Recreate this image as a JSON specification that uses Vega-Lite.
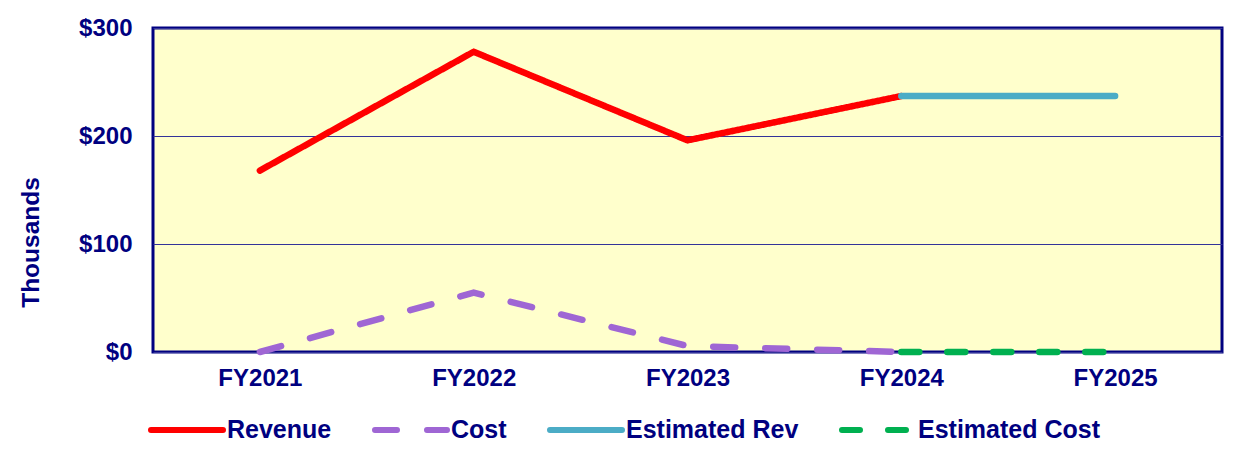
{
  "$schema": "https://vega.github.io/schema/vega-lite/v6.json",
  "width": 1069,
  "height": 324,
  "autosize": {"type": "none"},
  "padding": {"left": 153, "top": 28, "right": 11, "bottom": 114},
  "background": "#FFFFFF",
  "config": {
    "font": "Liberation Sans",
    "view": {"fill": "#FFFFCC", "stroke": "#000080", "strokeWidth": 3}
  },
  "data": {
    "values": [
      {"year": "FY2021", "series": "Revenue", "value": 168},
      {"year": "FY2022", "series": "Revenue", "value": 278},
      {"year": "FY2023", "series": "Revenue", "value": 196},
      {"year": "FY2024", "series": "Revenue", "value": 237},
      {"year": "FY2021", "series": "Cost", "value": 0},
      {"year": "FY2022", "series": "Cost", "value": 55},
      {"year": "FY2023", "series": "Cost", "value": 5.5},
      {"year": "FY2024", "series": "Cost", "value": 0},
      {"year": "FY2024", "series": "Estimated Rev", "value": 237},
      {"year": "FY2025", "series": "Estimated Rev", "value": 237},
      {"year": "FY2024", "series": "Estimated Cost", "value": 0},
      {"year": "FY2025", "series": "Estimated Cost", "value": 0}
    ]
  },
  "mark": {"type": "line", "strokeWidth": 6.5, "strokeCap": "round", "strokeJoin": "round", "clip": false},
  "encoding": {
    "x": {
      "field": "year",
      "type": "ordinal",
      "scale": {"type": "point", "padding": 0.5},
      "axis": {
        "title": null,
        "labelAngle": 0,
        "labelFont": "Liberation Sans",
        "labelFontSize": 24,
        "labelFontWeight": "bold",
        "labelColor": "#000080",
        "labelPadding": 14,
        "domain": false,
        "ticks": false,
        "grid": false
      }
    },
    "y": {
      "field": "value",
      "type": "quantitative",
      "scale": {"domain": [0, 300], "nice": false},
      "axis": {
        "title": "Thousands",
        "titleFont": "Liberation Sans",
        "titleFontSize": 24.5,
        "titleFontWeight": "bold",
        "titleColor": "#000080",
        "titleAngle": -90,
        "titleAlign": "center",
        "titleBaseline": "middle",
        "titleX": -122,
        "titleY": 214,
        "values": [0, 100, 200, 300],
        "format": "$.0f",
        "labelFont": "Liberation Sans",
        "labelFontSize": 24,
        "labelFontWeight": "bold",
        "labelColor": "#000080",
        "labelPadding": 21,
        "labelBaseline": "middle",
        "domain": false,
        "ticks": false,
        "grid": true,
        "gridColor": "#333399",
        "gridWidth": 1.2
      }
    },
    "color": {
      "field": "series",
      "type": "nominal",
      "sort": ["Revenue", "Cost", "Estimated Rev", "Estimated Cost"],
      "scale": {
        "domain": ["Revenue", "Cost", "Estimated Rev", "Estimated Cost"],
        "range": ["#FF0000", "#9F66D4", "#4BACC6", "#00B050"]
      },
      "legend": {
        "title": null,
        "orient": "none",
        "direction": "horizontal",
        "legendX": -5,
        "legendY": 363,
        "symbolType": "stroke",
        "symbolSize": 5184,
        "symbolStrokeWidth": 6,
        "labelFont": "Liberation Sans",
        "labelFontSize": 25,
        "labelFontWeight": "bold",
        "labelColor": "#000080",
        "labelOffset": 1,
        "labelLimit": 400,
        "columnPadding": 31,
        "padding": 0,
        "encode": {"symbols": {"update": {"strokeCap": {"value": "round"}}}}
      }
    },
    "strokeDash": {
      "field": "series",
      "type": "nominal",
      "sort": ["Revenue", "Cost", "Estimated Rev", "Estimated Cost"],
      "scale": {
        "domain": ["Revenue", "Cost", "Estimated Rev", "Estimated Cost"],
        "range": [[1, 0], [22, 30], [1, 0], [18, 28]]
      }
    }
  }
}
